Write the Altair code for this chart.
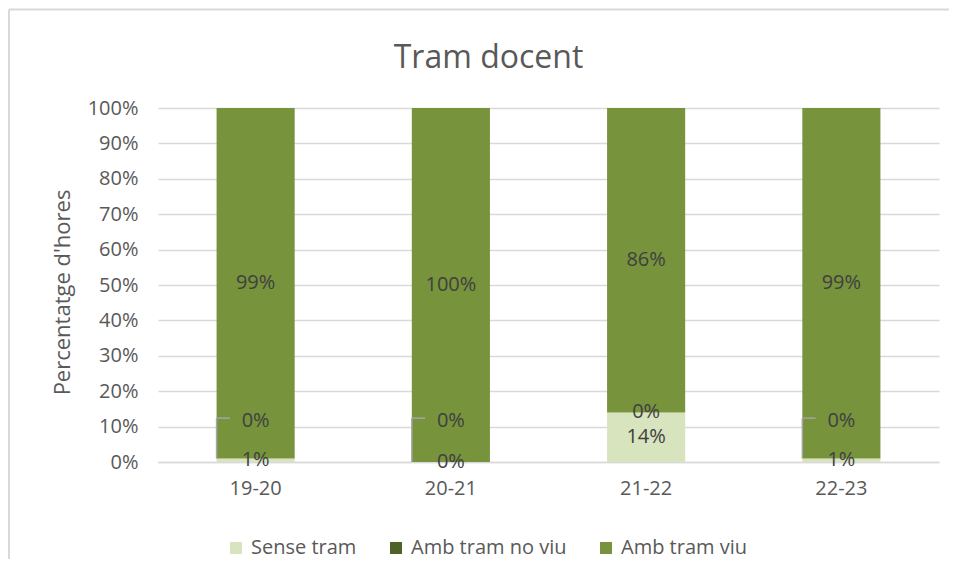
import altair as alt
import pandas as pd

categories = ["19-20", "20-21", "21-22", "22-23"]
series = ["Sense tram", "Amb tram no viu", "Amb tram viu"]
sense_tram = [1, 0, 14, 1]
amb_tram_no_viu = [0, 0, 0, 0]
amb_tram_viu = [99, 100, 86, 99]
colors = ["#d7e4bd", "#4f6228", "#77933c"]

rows = []
for i, c in enumerate(categories):
    for j, (s, vals) in enumerate(zip(series, [sense_tram, amb_tram_no_viu, amb_tram_viu])):
        rows.append({"cat": c, "series": s, "value": vals[i], "order": j})
df = pd.DataFrame(rows)

FONT = "Open Sans"
GREY = "#595959"
LBL = "#404040"

base = alt.Chart(df).transform_stack(
    stack="value", groupby=["cat"], as_=["y0", "y1"], sort=[alt.SortField("order")]
).transform_calculate(
    mid="(datum.y0 + datum.y1) / 2",
    label="datum.value + '%'",
    ly="max(datum.y0, 11.6)",
    lt="12.4",
)

xaxis = alt.Axis(title=None, labelAngle=0, ticks=False, domainColor="#d9d9d9",
                 domainWidth=1.5, labelFontSize=20, labelColor=GREY, labelFont=FONT,
                 labelPadding=16, grid=False)
yaxis = alt.Axis(title="Percentatge d'hores", values=list(range(0, 101, 10)),
                 labelExpr="datum.value + '%'", labelOverlap=False,
                 domain=False, ticks=False,
                 grid=True, gridColor="#d9d9d9", gridWidth=1.5,
                 labelFontSize=20, labelColor=GREY, labelFont=FONT, labelPadding=20,
                 titleFontSize=22, titleColor=GREY, titleFont=FONT,
                 titleFontWeight="normal", titlePadding=13, titleY=184)
xscale = alt.Scale(paddingInner=0.6, paddingOuter=0.3)
yscale = alt.Scale(domain=[0, 100])


def X(**kw):
    return alt.X("cat:N", sort=categories, scale=xscale, axis=xaxis, **kw)


def Y(field):
    return alt.Y(field, scale=yscale, axis=yaxis)


bars = base.mark_bar().encode(
    x=X(),
    y=Y("y0:Q"),
    y2="y1:Q",
    order=alt.Order("order:Q"),
    color=alt.Color("series:N", scale=alt.Scale(domain=series, range=colors),
                    legend=alt.Legend(title=None, orient="none", direction="horizontal",
                                      legendX=68, legendY=430, symbolType="square",
                                      symbolSize=144, symbolStrokeWidth=0,
                                      labelFontSize=20, labelColor=GREY, labelFont=FONT,
                                      columnPadding=29, labelOffset=5, padding=0)),
)

main_text = base.transform_filter("datum.series != 'Amb tram no viu'").mark_text(
    fontSize=20, font=FONT, color=LBL
).encode(x=X(), y=Y("mid:Q"), text="label:N")

nv_text = base.transform_filter("datum.series == 'Amb tram no viu'").mark_text(
    fontSize=20, font=FONT, color=LBL
).encode(x=X(), y=Y("ly:Q"), text="label:N")

lead = base.transform_filter("datum.series == 'Amb tram no viu' && datum.y0 < 5")
vert = lead.mark_rule(color="#a6a6a6", strokeWidth=1.5).encode(
    x=X(bandPosition=0),
    y=Y("y0:Q"), y2="lt:Q",
)
horiz = lead.mark_rule(color="#a6a6a6", strokeWidth=1.5).encode(
    x=X(bandPosition=0),
    x2=alt.X2("cat:N", bandPosition=0.17),
    y=Y("lt:Q"),
)

one = pd.DataFrame({"a": [0]})
frame_left = alt.Chart(one).mark_rule(color="#d9d9d9", strokeWidth=2).encode(
    x=alt.value(-149), y=alt.value(-98.5), y2=alt.value(800))
frame_top = alt.Chart(one).mark_rule(color="#d9d9d9", strokeWidth=2).encode(
    x=alt.value(-149), x2=alt.value(1000), y=alt.value(-98.5))

chart = alt.layer(frame_left, frame_top, bars, vert, horiz, main_text, nv_text).properties(
    width=781, height=354,
    title=alt.TitleParams("Tram docent", fontSize=32, font=FONT, color=GREY,
                          fontWeight="normal", anchor="middle", dx=-60, offset=0,
                          baseline="alphabetic", dy=91),
    autosize=alt.AutoSizeParams(type="none"),
    padding={"left": 150, "top": 100, "right": 10, "bottom": 97},
).configure_view(strokeWidth=0)

chart.save("out.html", embed_options={"renderer": "svg", "actions": False})
